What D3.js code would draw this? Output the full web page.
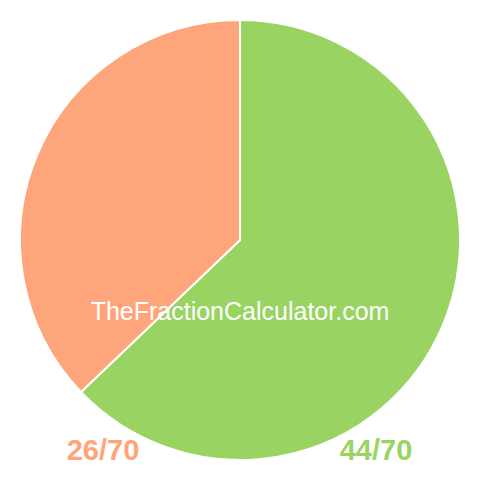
<!DOCTYPE html>
<html lang="en">
<head>
    <meta charset="UTF-8">
    <script src="https://cdnjs.cloudflare.com/ajax/libs/d3/7.8.5/d3.min.js"></script>
    <style>
        body { margin: 0; background: #fff; }
    </style>
</head>
<body>
<div id="chart"></div>
<script>
    // fraction parts, in drawing order (clockwise from 12 o'clock)
    var labels = ["44/70", "26/70"];
    var values = [44, 26];
    var colors = ["#99d462", "#ffa57b"];

    var width = 480, height = 480;
    var radius = 220;

    var svg = d3.select("#chart")
        .append("svg")
        .attr("width", width)
        .attr("height", height);

    var pie = d3.pie().sort(null);
    var arc = d3.arc().innerRadius(0).outerRadius(radius);

    var g = svg.append("g")
        .attr("transform", "translate(240,240)");

    g.selectAll("path")
        .data(pie(values))
        .enter()
        .append("path")
        .attr("d", arc)
        .attr("fill", function (d, i) { return colors[i]; })
        .attr("stroke", "#fff")
        .attr("stroke-width", 2);

    // watermark
    svg.append("text")
        .attr("x", 240)
        .attr("y", 320)
        .attr("text-anchor", "middle")
        .attr("fill", "#fff")
        .style("font-family", "'Liberation Sans', Arial, sans-serif")
        .style("font-size", "25px")
        .text("TheFractionCalculator.com");

    // labels under the pie
    svg.append("text")
        .attr("x", 103)
        .attr("y", 460)
        .attr("text-anchor", "middle")
        .attr("fill", colors[1])
        .style("font-family", "'Liberation Sans', Arial, sans-serif")
        .style("font-weight", "bold")
        .style("font-size", "29px")
        .text(labels[1]);

    svg.append("text")
        .attr("x", 376)
        .attr("y", 460)
        .attr("text-anchor", "middle")
        .attr("fill", colors[0])
        .style("font-family", "'Liberation Sans', Arial, sans-serif")
        .style("font-weight", "bold")
        .style("font-size", "29px")
        .text(labels[0]);
</script>
</body>
</html>
